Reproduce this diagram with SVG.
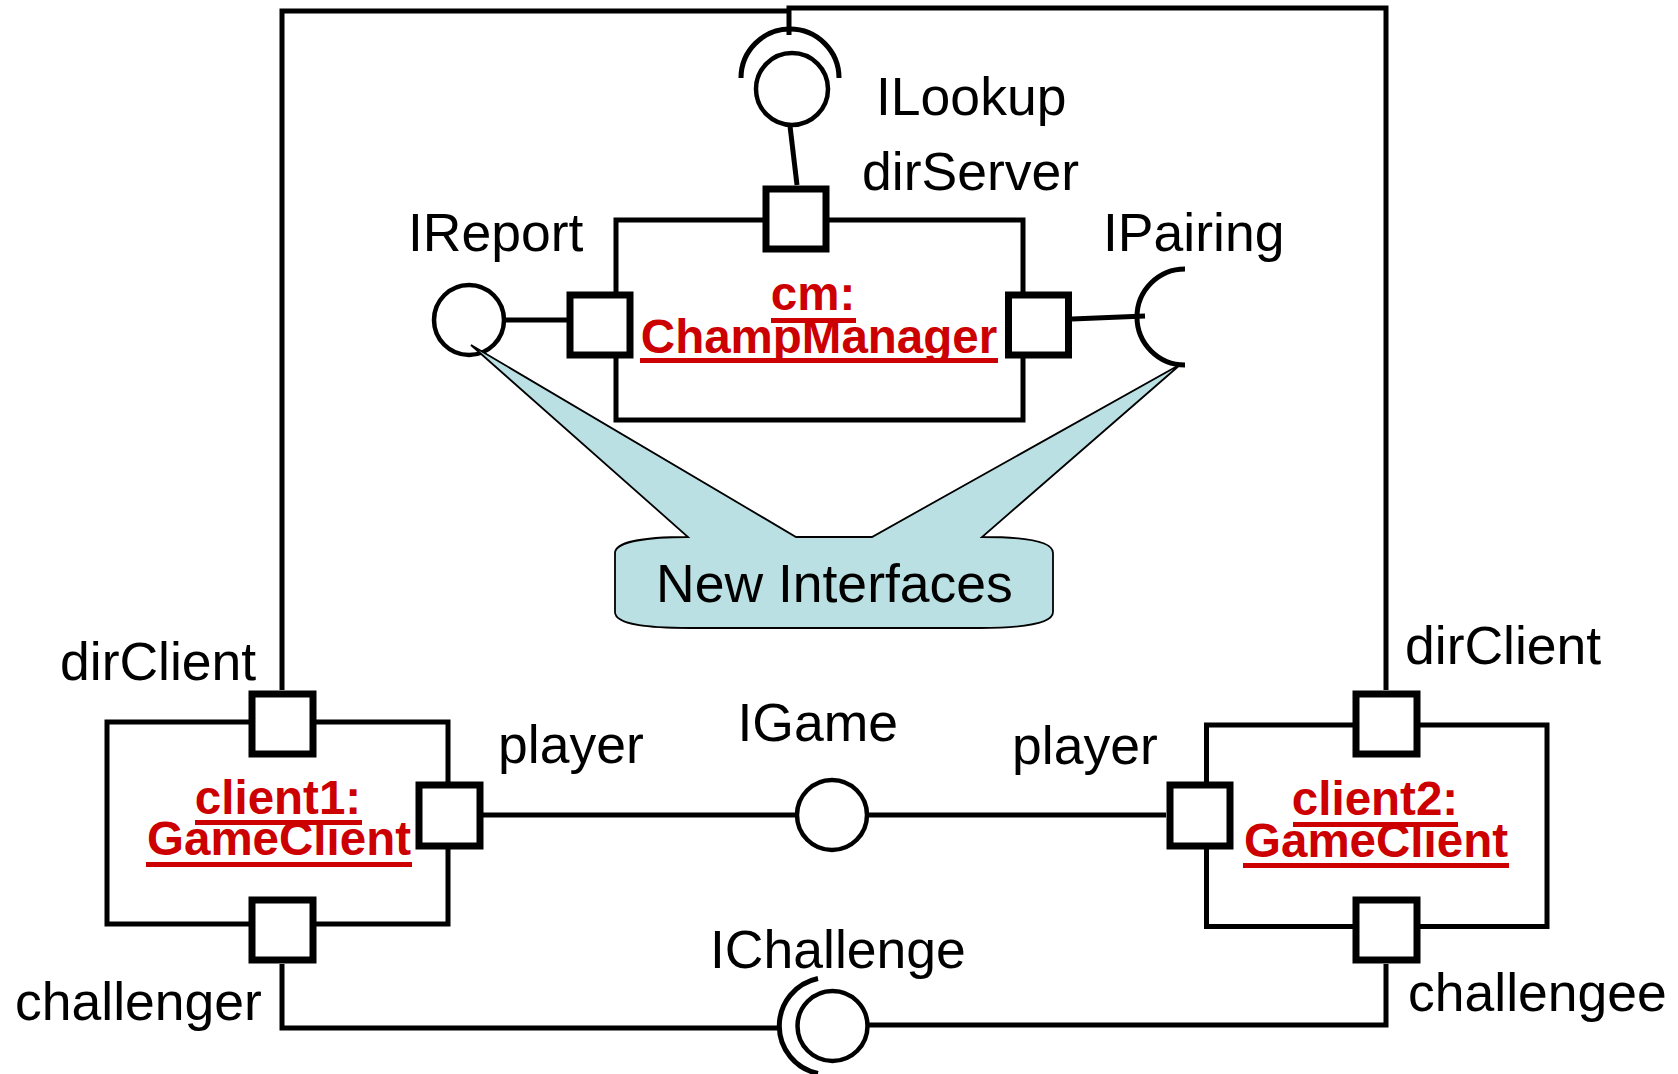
<svg xmlns="http://www.w3.org/2000/svg" width="1678" height="1074" viewBox="0 0 1678 1074">
<style>
.box{fill:#fff;stroke:#000;stroke-width:5}
.port{fill:#fff;stroke:#000;stroke-width:7}
.wire{fill:none;stroke:#000;stroke-width:5}
.ball{fill:#fff;stroke:#000;stroke-width:4.5}
.socket{fill:none;stroke:#000;stroke-width:5}
.lbl{font-family:"Liberation Sans",Arial,sans-serif;font-size:53.5px;fill:#000}
.name{font-family:"Liberation Sans",Arial,sans-serif;font-size:47.5px;font-weight:bold;fill:#cc0000;text-anchor:middle}
.ul{fill:#cc0000}
.note{fill:#bae0e4;stroke:#000;stroke-width:1.8;stroke-linejoin:miter}
</style>
<rect width="1678" height="1074" fill="#fff"/>

<g id="connectors">
  <path class="wire" d="M282,690 V11 H789"/>
  <path class="wire" d="M789,35 V8 H1386 V690"/>
  <path class="wire" d="M790,126 L797,185"/>
  <path class="wire" d="M503,320 L567,320"/>
  <path class="wire" d="M1072,319 L1145,316"/>
  <path class="wire" d="M483,815 L798,815"/>
  <path class="wire" d="M866,815 L1166,815"/>
  <path class="wire" d="M282,964 V1028 H781"/>
  <path class="wire" d="M867,1025 H1386 V964"/>
</g>

<g id="cm">
  <rect class="box" x="616" y="220" width="407" height="200"/>
  <rect class="port" x="766" y="189" width="60" height="60"/>
  <rect class="port" x="570" y="295" width="60" height="60"/>
  <rect class="port" x="1008.5" y="295" width="60" height="60"/>
  <text class="name" x="813" y="310">cm:</text>
  <rect class="ul" x="771" y="318" width="85" height="5"/>
  <text class="name" x="819" y="353">ChampManager</text>
  <rect class="ul" x="640" y="358" width="358" height="5"/>
</g>

<g id="client1">
  <rect class="box" x="107" y="722" width="341" height="202"/>
  <rect class="port" x="252" y="694" width="61" height="60"/>
  <rect class="port" x="419" y="785" width="61" height="61"/>
  <rect class="port" x="252" y="900" width="61" height="60"/>
  <text class="name" x="278" y="814">client1:</text>
  <rect class="ul" x="195" y="820" width="167" height="5"/>
  <text class="name" x="279" y="855">GameClient</text>
  <rect class="ul" x="146" y="862" width="266" height="5"/>
</g>

<g id="client2">
  <rect class="box" x="1206.5" y="725" width="340.5" height="201.5"/>
  <rect class="port" x="1356" y="694" width="61" height="60"/>
  <rect class="port" x="1170" y="785" width="60" height="61"/>
  <rect class="port" x="1356" y="900" width="61" height="60"/>
  <text class="name" x="1375" y="815">client2:</text>
  <rect class="ul" x="1293" y="822" width="165" height="5"/>
  <text class="name" x="1376" y="857">GameClient</text>
  <rect class="ul" x="1243" y="863" width="266" height="5"/>
</g>

<g id="ILookup">
  <path class="socket" d="M741,78 A49,49 0 0 1 839,78"/>
  <circle class="ball" cx="792" cy="89" r="36"/>
  <text class="lbl" x="876" y="115">ILookup</text>
</g>

<g id="IReport">
  <circle class="ball" cx="469" cy="320" r="35"/>
  <text class="lbl" x="408" y="251">IReport</text>
</g>

<g id="IPairing">
  <path class="socket" d="M1185,269 A48,48 0 0 0 1185,365"/>
  <text class="lbl" x="1103" y="251">IPairing</text>
</g>

<g id="IGame">
  <circle class="ball" cx="832" cy="815" r="35"/>
  <text class="lbl" x="737.5" y="741">IGame</text>
</g>

<g id="IChallenge">
  <path class="socket" d="M818,978.5 A48.5,48.5 0 0 0 818,1073.5"/>
  <circle class="ball" cx="832.5" cy="1026" r="35"/>
  <text class="lbl" x="710" y="968">IChallenge</text>
</g>

<g id="port-labels">
  <text class="lbl" x="862" y="190">dirServer</text>
  <text class="lbl" x="60" y="680">dirClient</text>
  <text class="lbl" x="1405" y="664">dirClient</text>
  <text class="lbl" x="498" y="763">player</text>
  <text class="lbl" x="1012" y="764">player</text>
  <text class="lbl" x="15" y="1020">challenger</text>
  <text class="lbl" x="1408" y="1011">challengee</text>
</g>

<g id="note">
  <path class="note" d="M615,553 C615,541 650,537 688,537 L471,345 L796,537 L872,537 L1181,364 L982,537 C1025,537 1053,541 1053,553 L1053,612 C1053,624 1020,628 980,628 L690,628 C650,628 615,625 615,612 Z"/>
  <text class="lbl" x="656" y="602">New Interfaces</text>
</g>
</svg>
